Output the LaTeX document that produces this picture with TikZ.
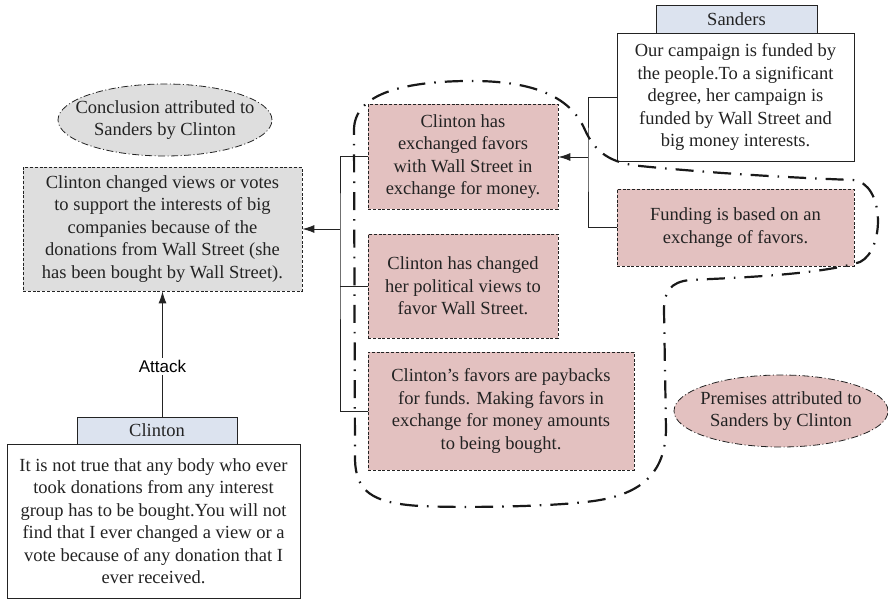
\documentclass[tikz,border=0pt]{standalone}
\usepackage{fontspec}
\setmainfont{Liberation Serif}
\newfontfamily\labelsans{Liberation Sans}
\usetikzlibrary{arrows.meta,shapes.geometric}

\definecolor{inkgray}{RGB}{35,35,35}
\definecolor{premisefill}{RGB}{227,193,192}
\definecolor{conclfill}{RGB}{222,222,222}
\definecolor{speakerfill}{RGB}{220,227,239}

\tikzset{
  txt/.style={font=\fontsize{18.5}{22.5}\selectfont, text=inkgray, align=center, inner sep=0pt},
  box/.style={txt, rectangle, draw=inkgray, line width=0.8pt},
  dashbox/.style={box, dash pattern=on 3pt off 1.8pt},
  premise/.style={dashbox, fill=premisefill},
  conclbox/.style={dashbox, fill=conclfill},
  speaker/.style={box, fill=speakerfill},
  quote/.style={box, fill=white},
  tagellipse/.style={ellipse, draw=inkgray, line width=0.8pt,
    dash pattern=on 7pt off 2.5pt on 1pt off 2.5pt, inner sep=0pt,
    minimum width=214pt, minimum height=72pt},
  link/.style={draw=inkgray, line width=0.9pt},
  arrowlink/.style={link, -{Latex[length=12pt,width=8pt]}},
  enclosure/.style={draw=black!90, line width=2.2pt,
    dash pattern=on 18pt off 9pt on 1.6pt off 9pt},
}

\begin{document}
\begin{tikzpicture}[x=1pt,y=-1pt]
\useasboundingbox (0,0) rectangle (888,601);

% conclusion side
\node[tagellipse, fill=conclfill,
  label={[txt]center:{Conclusion attributed to\\Sanders by Clinton}}] (ctag) at (165,120) {};
\node[conclbox, minimum width=279pt, minimum height=124pt] (concl) at (162.5,229)
  {Clinton changed views or votes\\to support the interests of big\\companies because of the\\donations from Wall Street (she\\has been bought by Wall Street).};

% Clinton's reply
\node[speaker, minimum width=160pt, minimum height=27pt] (chead) at (157,430.5) {Clinton};
\node[quote, minimum width=293pt, minimum height=154pt] (cbody) at (153.5,521)
  {It is not true that any body who ever\\took donations from any interest\\group has to be bought.You will not\\find that I ever changed a view or a\\vote because of any donation that I\\ever received.};

% premises
\node[premise, minimum width=190pt, minimum height=105pt] (b1) at (463,156.5)
  {Clinton has\\exchanged favors\\with Wall Street in\\exchange for money.};
\node[premise, minimum width=190pt, minimum height=104pt] (b2) at (463,286)
  {Clinton has changed\\her political views to\\favor Wall Street.};
\node[premise, minimum width=266pt, minimum height=118pt] (b3) at (501,411)
  {Clinton’s favors are paybacks\\for funds. Making favors in\\exchange for money amounts\\to being bought.};

% Sanders' statement
\node[speaker, minimum width=161pt, minimum height=28pt] (shead) at (736.5,19) {Sanders};
\node[quote, minimum width=237pt, minimum height=128pt] (sbody) at (735.5,97)
  {Our campaign is funded by\\the people.To a significant\\degree, her campaign is\\funded by Wall Street and\\big money interests.};
\node[premise, minimum width=237pt, minimum height=77pt] (fund) at (735.5,227.5)
  {Funding is based on an\\exchange of favors.};

\node[tagellipse, fill=premisefill,
  label={[txt]center:{Premises attributed to\\Sanders by Clinton}}] (ptag) at (781,411) {};

% connectors
\coordinate (jl) at (340,229);
\coordinate (jr) at (588,157);
\draw[link] (b1.west) -| (jl) |- (b3.west);
\draw[link] (b2.west) -- (b2.west -| jl);
\draw[arrowlink] (jl) -- (jl -| concl.east);
\draw[link] (sbody.west) -| (jr) |- (fund.west);
\draw[arrowlink] (jr) -- (jr -| b1.east);
\draw[arrowlink] (chead.north -| concl.south) -- (concl.south)
  node[pos=0.4, fill=white, inner sep=2pt, font=\labelsans\fontsize{17}{20}\selectfont, text=black] (atk) {Attack};

% enclosure around the attributed premises
\draw[enclosure] (354,130)
  .. controls (354,95) and (400,82) .. (465,81)
  .. controls (530,80) and (570,95) .. (585,130)
  .. controls (595,152) and (610,163) .. (640,166)
  .. controls (720,174) and (800,178) .. (853,180)
  .. controls (885,183) and (885,250) .. (860,262)
  .. controls (820,275) and (730,278) .. (690,280)
  .. controls (670,282) and (664,292) .. (664,310)
  -- (666,430)
  .. controls (665,470) and (645,492) .. (600,500)
  .. controls (560,507) and (460,508) .. (420,506)
  .. controls (370,503) and (356,490) .. (355,460)
  -- cycle;
\end{tikzpicture}
\end{document}
